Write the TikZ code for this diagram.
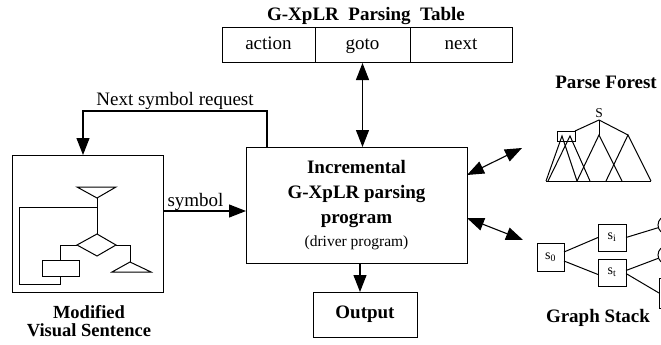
\documentclass[tikz,border=0pt]{standalone}
\usepackage{fontspec}
\setmainfont{Liberation Serif}
\usetikzlibrary{arrows.meta,positioning}

\tikzset{
  >={Triangle[length=17pt,width=13pt]},
  box/.style={draw,line width=1pt,inner sep=0pt,outer sep=0pt},
  cell/.style={box,text height=13pt,text depth=4pt,minimum height=35pt},
  lbl/.style={font=\fontsize{19}{21}\selectfont},
  ttl/.style={font=\fontsize{19}{19}\selectfont\bfseries},
  conn/.style={line width=1.1pt},
  sketch/.style={line width=1pt}
}

\begin{document}
\begin{tikzpicture}[x=1pt,y=-1pt]
\useasboundingbox (0,0) rectangle (661,345);
\clip (0,0) rectangle (661,345);
% parsing table
\node [ttl] (tabtitle) at (366,16) {G-XpLR\ \ Parsing\ \ Table};
\node [cell,lbl,minimum width=93pt] (action) at (268.5,45.5) {action};
\node [cell,lbl,minimum width=95pt,right=0pt of action] (goto) {goto};
\node [cell,lbl,minimum width=102pt,right=0pt of goto] (next) {next};
% driver
\node [box,minimum width=221pt,minimum height=116pt,align=center,
  font=\fontsize{19}{25}\selectfont\bfseries] (prog) at (356.5,205)
  {Incremental\\G-XpLR parsing\\program\\[-2pt]{\fontsize{15.5}{18}\selectfont\mdseries(driver program)}};
\node [box,ttl,minimum width=104pt,minimum height=45pt] (out) at (365,314.5) {Output};
% visual sentence
\node [box,minimum width=151pt,minimum height=137pt] (vs) at (87.5,223.5) {};
\node [ttl,align=center,font=\fontsize{18.5}{18}\selectfont\bfseries] (vslabel) at (89,321) {Modified\\Visual Sentence};
\draw [sketch] (77,187) -- (116,187) -- (97,198) -- cycle;
\draw [sketch] (97,198) -- (97,234);
\draw [sketch] (97,207) -- (19,207) -- (19,284) -- (60,284) -- (60,276);
\draw [sketch] (42,260) rectangle (79,276);
\draw [sketch] (77,245) -- (60,245) -- (60,260);
\draw [sketch] (97,234) -- (116,245) -- (97,256) -- (77,245) -- cycle;
\draw [sketch] (116,245) -- (130,245) -- (130,262);
\draw [sketch] (130,262) -- (151,272) -- (112,272) -- cycle;
% parse forest
\node [ttl] (pftitle) at (606,82) {Parse Forest};
\coordinate (root) at (599,120);
\node [font=\fontsize{13.5}{14}\selectfont,above=-1pt of root] (slabel) {S};
\draw [sketch] (root) -- (575,131);
\draw [sketch] (root) -- (599,135);
\draw [sketch] (root) -- (628,135);
\draw [sketch] (557,131) rectangle (575,141);
\draw [sketch] (546,181) -- (562,136) -- (577,181);
\draw [sketch] (548,181) -- (570,136) -- (590,181);
\draw [sketch] (577,181) -- (599,135) -- (622,181);
\draw [sketch] (606,181) -- (628,135) -- (651,181);
\draw [sketch] (546,181) -- (651,181);
% graph stack
\node [box,minimum width=27pt,minimum height=28pt,font=\fontsize{14}{14}\selectfont] (s0) at (550.5,257) {s\textsubscript{0}};
\node [box,minimum width=28pt,minimum height=27pt,font=\fontsize{14}{14}\selectfont] (si) at (612,237.5) {s\textsubscript{i}};
\node [box,minimum width=28pt,minimum height=27pt,font=\fontsize{14}{14}\selectfont] (st) at (612,272.5) {s\textsubscript{t}};
\node [draw,line width=1pt,circle,minimum size=18pt] (sj) at (667,225) {};
\node [draw,line width=1pt,circle,minimum size=18pt] (sk) at (667,255) {};
\node [box,minimum width=28pt,minimum height=30pt] (sl) at (673,293) {};
\draw [sketch] ([yshift=5pt]s0.east) -- (si.west);
\draw [sketch] ([yshift=-4pt]s0.east) -- ([yshift=-2pt]st.west);
\draw [sketch] (si.east) -- (sj);
\draw [sketch] ([yshift=2pt]st.east) -- (sk);
\draw [sketch] ([yshift=-1pt]st.east) -- (sl.west);
\node [ttl] (gslabel) at (598,318) {Graph Stack};
% connectors
\coordinate (bend) at (83,111);
\coordinate (pfend) at (522,148);
\coordinate (gsend) at (523,240);
\draw [<->,conn] (goto.south) -- (goto.south |- prog.north);
\draw [->,conn] ([xshift=-5pt]out.north |- prog.south) -- ([xshift=-5pt]out.north);
\draw [->,conn] ([xshift=-89.5pt]prog.north) |- (bend)
  node [lbl,pos=0.75,above=-2pt] (reqlabel) {Next symbol request} -- (bend |- vs.north);
\draw [->,conn] ([yshift=12.5pt]vs.east) coordinate (symin) -- (prog.west |- symin);
\node [lbl,above right=-3pt and 1pt of symin] (symlabel) {symbol};
\draw [<->,conn] ([yshift=30pt]prog.east) -- (pfend);
\draw [<->,conn] ([yshift=-13pt]prog.east) -- (gsend);
\end{tikzpicture}
\end{document}
